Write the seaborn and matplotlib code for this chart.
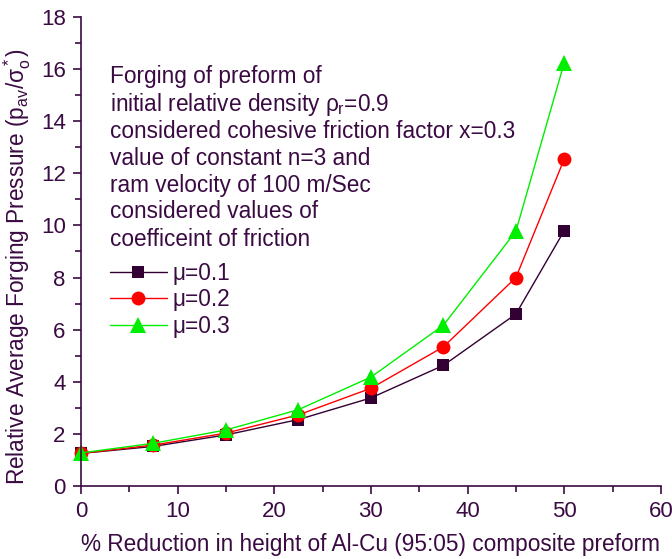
import matplotlib
matplotlib.use("Agg")
import matplotlib.pyplot as plt
import seaborn as sns
import pandas as pd
from matplotlib.ticker import MultipleLocator

sns.set_style("ticks")
plt.rcParams['font.family'] = ['Liberation Sans', 'DejaVu Sans']
plt.rcParams['mathtext.fontset'] = 'custom'
plt.rcParams['mathtext.rm'] = 'Liberation Sans'
plt.rcParams['mathtext.it'] = 'Liberation Sans'

reduction = [0, 7.5, 15, 22.5, 30, 37.5, 45, 50]
mu_01 = [1.25, 1.52, 1.96, 2.55, 3.38, 4.63, 6.6, 9.8]
mu_02 = [1.25, 1.57, 2.03, 2.73, 3.75, 5.34, 8.0, 12.55]
mu_03 = [1.27, 1.64, 2.15, 2.93, 4.18, 6.17, 9.78, 16.25]
series_labels = ["μ=0.1", "μ=0.2", "μ=0.3"]

INK = "#3a0a42"
colors = ["#330033", "#ff0000", "#00ee00"]

rows = []
for lab, vals in zip(series_labels, [mu_01, mu_02, mu_03]):
    for x, y in zip(reduction, vals):
        rows.append({"x": x, "y": y, "mu": lab})
df = pd.DataFrame(rows)

fig = plt.figure(figsize=(6.72, 5.59), dpi=100)
ax = fig.add_axes([0.1205, 0.1306, 0.863, 0.839])

sns.lineplot(data=df, x="x", y="y", hue="mu", style="mu",
             markers=["s", "o", "^"], dashes=False, palette=colors,
             markersize=9, linewidth=1.0, markeredgewidth=0, ax=ax,
             clip_on=False)

ax.set_xlim(0, 60)
ax.set_ylim(0, 18)
ax.xaxis.set_major_locator(MultipleLocator(10))
ax.xaxis.set_minor_locator(MultipleLocator(5))
ax.yaxis.set_major_locator(MultipleLocator(2))
ax.yaxis.set_minor_locator(MultipleLocator(1))
for s in ["top", "right"]:
    ax.spines[s].set_visible(False)
for s in ["left", "bottom"]:
    ax.spines[s].set_color(INK)
    ax.spines[s].set_linewidth(1.2)
ax.tick_params(which="major", length=6, width=1.2, color=INK, labelcolor=INK,
               labelsize=16, direction="out", pad=5)
ax.tick_params(which="minor", length=4, width=1.2, color=INK, direction="out")

ax.set_xlabel("% Reduction in height of Al-Cu (95:05) composite preform",
              fontsize=16.3, color=INK, labelpad=8)
ax.set_ylabel(r"Relative Average Forging Pressure (p$_{\rm av}$/σ$^*_{\rm o}$)",
              fontsize=16.3, color=INK)
ax.yaxis.set_label_coords(-0.083, 0.467)

lines = ["Forging of preform of",
         r"initial relative density $\rho_{\rm r}$=0.9",
         "considered cohesive friction factor x=0.3",
         "value of constant n=3 and",
         "ram velocity of 100 m/Sec",
         "considered values of",
         "coefficeint of friction"]
y0 = 77
for i, t in enumerate(lines):
    ypix = y0 + 27 * i
    fig.text(110 / 672, 1 - ypix / 559, t, fontsize=16.3, color=INK,
             va="center", ha="left")

marker_sizes = {"s": 9, "o": 10, "^": 11}
for ln in ax.lines:
    m = ln.get_marker()
    if m in marker_sizes:
        ln.set_markersize(marker_sizes[m])

leg = ax.legend(loc="upper left", bbox_to_anchor=(0.05, 0.478), frameon=False,
                handlelength=2.5, handletextpad=0.27, labelspacing=0.15,
                fontsize=16.3, borderpad=0, borderaxespad=0)
for t in leg.get_texts():
    t.set_color(INK)
for h in leg.get_lines():
    m = h.get_marker()
    if m in marker_sizes:
        h.set_markersize(marker_sizes[m])

fig.savefig("out.png", dpi=100)
